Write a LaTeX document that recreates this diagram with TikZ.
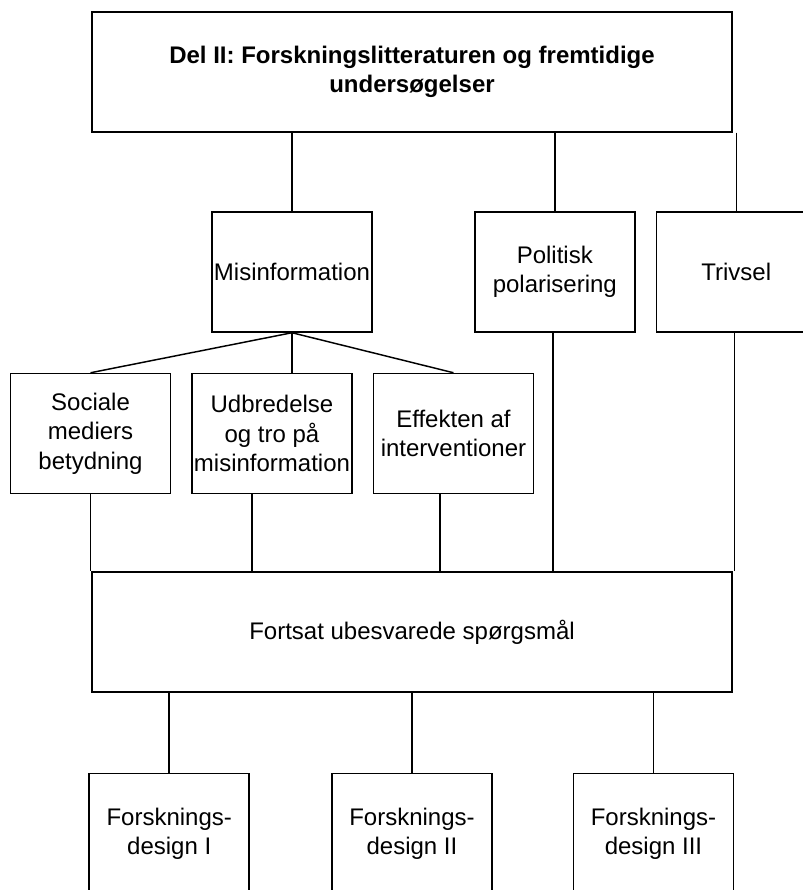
\documentclass[tikz,border=0pt]{standalone}
\usepackage{fontspec}
\setmainfont{Liberation Sans}
\usetikzlibrary{positioning}

\tikzset{
  boks/.style={draw, line width=1.1pt, minimum width=120pt, minimum height=90pt, inner sep=0pt, align=center},
  bred/.style={boks, minimum width=480pt},
  streg/.style={line width=1.1pt}
}

\begin{document}
\begin{tikzpicture}[x=0.75pt, y=-0.75pt, font=\fontsize{18pt}{22pt}\selectfont]
\useasboundingbox (0,0) rectangle (803,890);
\clip (0,0) rectangle (803,890);

\node(del)[bred, font=\fontsize{18pt}{22pt}\selectfont\bfseries] at (412,72){Del II: Forskningslitteraturen og fremtidige\\unders\o gelser};

\node(mis)[boks] at (292,272){Misinformation};
\node(pol)[boks, right =76pt of mis]{Politisk\\polarisering};
\node(triv)[boks, right =15pt of pol]{Trivsel};

\node(udb)[boks, below =30pt of mis, xshift=-15pt]{Udbredelse\\og tro p\aa\\misinformation};
\node(soc)[boks, left =15pt of udb]{Sociale\\mediers\\betydning};
\node(eff)[boks, right =15pt of udb]{Effekten af\\interventioner};

\node(fort)[bred] at (412,632){Fortsat ubesvarede sp\o rgsm\aa l};

\node(d2)[boks, below =60pt of fort]{Forsknings-\\design II};
\node(d1)[boks, left =61pt of d2]{Forsknings-\\design I};
\node(d3)[boks, right =60pt of d2]{Forsknings-\\design III};

\foreach \x in {mis, pol, triv}
	\draw[streg](del.south -| \x)--(\x.north);

\draw[streg](mis.south)--(soc.north);
\draw[streg](mis.south)--(mis.south |- udb.north);
\draw[streg](mis.south)--(eff.north);

\draw[streg](soc.south)--(soc.south |- fort.north);
\draw[streg]([xshift=-15pt]udb.south)--([xshift=-15pt]udb.south |- fort.north);
\draw[streg]([xshift=-10pt]eff.south)--([xshift=-10pt]eff.south |- fort.north);
\draw[streg]([xshift=-1.5pt]pol.south)--([xshift=-1.5pt]pol.south |- fort.north);
\draw[streg]([xshift=-1.5pt]triv.south)--([xshift=-1.5pt]triv.south |- fort.north);

\foreach \x in {d1, d2, d3}
	\draw[streg](fort.south -| \x)--(\x.north);

\end{tikzpicture}
\end{document}
